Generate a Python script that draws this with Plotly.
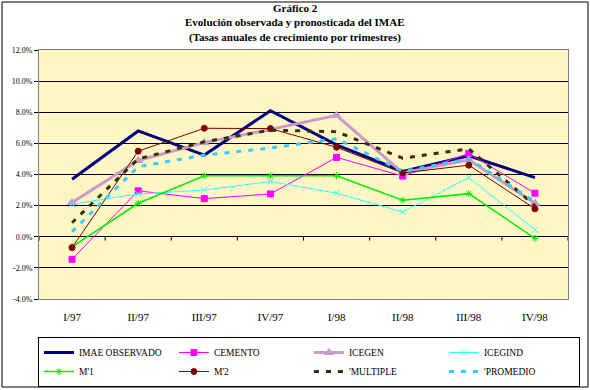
import plotly.graph_objects as go

categories = ["I/97", "II/97", "III/97", "IV/97", "I/98", "II/98", "III/98", "IV/98"]
imae_observado = [3.7, 6.8, 5.25, 8.1, 5.9, 4.2, 5.2, 3.8]
cemento = [-1.45, 2.95, 2.45, 2.75, 5.1, 3.9, 5.35, 2.8]
icegen = [2.2, 4.9, 6.05, 6.9, 7.8, 4.1, 4.95, 2.15]
icegind = [2.1, 2.75, 3.0, 3.55, 2.8, 1.6, 3.8, 0.45]
m1 = [-0.65, 2.15, 3.92, 3.92, 3.92, 2.35, 2.77, -0.1]
m2 = [-0.7, 5.5, 6.97, 6.95, 5.75, 4.1, 4.6, 1.8]
multiple = [0.9, 5.0, 6.1, 6.85, 6.75, 5.05, 5.65, 2.0]
promedio = [0.33, 4.5, 5.25, 5.7, 6.3, 4.2, 5.0, 2.25]
y_ticks = [-4, -2, 0, 2, 4, 6, 8, 10, 12]

W, H = 590, 390
L, R, T, B = 39, 22, 50, 91
pw, ph = W - L - R, H - T - B

def px_x(x):
    return (x - L) / pw

def px_y(y):
    return (H - B - y) / ph

serif = "Liberation Serif"

fig = go.Figure()

def add(name, ys, color, width, symbol=None, msize=6, dash="solid"):
    mode = "lines+markers" if symbol else "lines"
    fig.add_trace(go.Scatter(
        x=categories, y=ys, name=name, mode=mode,
        line=dict(color=color, width=width, dash=dash),
        marker=dict(symbol=symbol or "circle", size=msize, color=color,
                    line=dict(color=color, width=1)),
    ))

add("IMAE OBSERVADO", imae_observado, "#000080", 3)
add("CEMENTO", cemento, "#FF00FF", 1, "square", 6)
add("ICEGEN", icegen, "#CC99CC", 3, "triangle-up", 8)
add("ICEGIND", icegind, "#33FFFF", 1, "x-thin", 6)
add("M'1", m1, "#00EE00", 1.5, "asterisk", 6)
add("M'2", m2, "#800000", 1, "circle", 6)
add("'MULTIPLE", multiple, "#333300", 3, dash="5px,7px")
add("'PROMEDIO", promedio, "#33CCFF", 3, dash="5px,7px")

shapes = []
shapes.append(dict(type="rect", xref="paper", yref="paper",
                   x0=px_x(2), x1=px_x(588), y0=px_y(387), y1=px_y(2),
                   line=dict(color="black", width=1), layer="below"))
for i in range(len(categories) + 1):
    shapes.append(dict(type="line", xref="x", yref="y",
                       x0=i - 0.5, x1=i - 0.5, y0=0, y1=-0.25,
                       line=dict(color="black", width=1)))

annotations = []
for txt, yp in [("Gráfico 2", 8), ("Evolución observada y pronosticada del IMAE", 22),
                ("(Tasas anuales de crecimiento por trimestres)", 37)]:
    annotations.append(dict(text="<b>%s</b>" % txt, xref="paper", yref="paper",
                            x=px_x(295), y=px_y(yp), xanchor="center", yanchor="middle",
                            showarrow=False, font=dict(family=serif, size=11, color="black")))

fig.update_layout(
    width=W, height=H,
    margin=dict(l=L, r=R, t=T, b=B, pad=0, autoexpand=False),
    paper_bgcolor="white",
    plot_bgcolor="#FFF6C4",
    font=dict(family=serif, color="black"),
    showlegend=True,
    legend=dict(orientation="h", x=-0.002, y=px_y(337), xanchor="left", yanchor="top",
                entrywidth=90, entrywidthmode="pixels", itemwidth=30,
                bordercolor="black", borderwidth=1, bgcolor="white",
                font=dict(family=serif, size=9.5, color="black"),
                tracegroupgap=0),
    shapes=shapes,
    annotations=annotations,
)
fig.update_xaxes(type="category", range=[-0.5, 7.5], showgrid=False, zeroline=False,
                 ticks="", ticklabelstandoff=8,
                 tickfont=dict(family=serif, size=11, color="black"),
                 showline=True, linecolor="#808080", linewidth=1, mirror=True)
fig.update_yaxes(range=[-4, 12], tickvals=y_ticks, ticktext=["%.1f%%" % v for v in y_ticks],
                 showgrid=True, gridcolor="black", gridwidth=1,
                 zeroline=True, zerolinecolor="black", zerolinewidth=1,
                 ticks="outside", ticklen=4, tickcolor="black",
                 tickfont=dict(family=serif, size=8, color="black"),
                 showline=True, linecolor="#808080", linewidth=1, mirror=True)

fig.write_html("out.html", config={"displayModeBar": False},
               post_script="document.body.style.margin='0';")
